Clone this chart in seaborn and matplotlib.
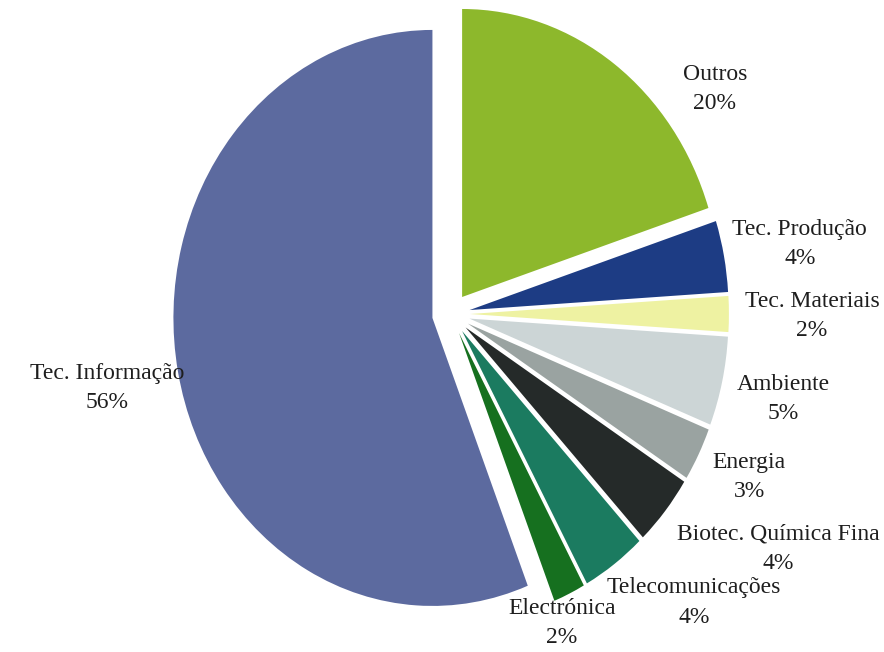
import matplotlib
matplotlib.use("Agg")
import matplotlib.pyplot as plt
import seaborn as sns

# Data (clockwise from 12 o'clock)
categories = [
    "Outros",
    "Tec. Produção",
    "Tec. Materiais",
    "Ambiente",
    "Energia",
    "Biotec. Química Fina",
    "Telecomunicações",
    "Electrónica",
    "Tec. Informação",
]
shares = [20, 4, 2, 5, 3, 4, 4, 2, 56]

colors = [
    "#8db82c",  # Outros
    "#1d3c84",  # Tec. Produção
    "#eef2a2",  # Tec. Materiais
    "#ccd5d6",  # Ambiente
    "#9aa3a1",  # Energia
    "#252a29",  # Biotec
    "#1b7b60",  # Telecom
    "#16701f",  # Electrónica
    "#5c6a9f",  # Tec. Informação
]

# Label anchor positions (data coords, pie radius = 1)
label_pos = [
    (1.019, 0.781),
    (1.347, 0.243),
    (1.394, -0.007),
    (1.282, -0.295),
    (1.151, -0.566),
    (1.263, -0.816),
    (0.938, -1.003),
    (0.429, -1.073),
    (-1.328, -0.257),
]


def main():
    sns.set_theme(style="white")
    plt.rcParams["font.family"] = ["Liberation Serif", "DejaVu Serif"]

    fig = plt.figure(figsize=(8.84, 6.52), dpi=100)
    ax = fig.add_axes([0, 0, 1, 1])

    ax.pie(
        shares,
        colors=colors,
        startangle=90,
        counterclock=False,
        explode=[0.073] * len(shares),
        wedgeprops={"linewidth": 0},
    )

    for name, val, (x, y) in zip(categories, shares, label_pos):
        ax.text(
            x, y, f"{name}\n{val}%",
            ha="center", va="center",
            fontsize=17, color="#1e1e1e", linespacing=1.55,
        )

    # The scanned pie is a bit taller than wide
    ax.set_aspect("auto")
    ax.set_xlim(-451 / 259, (884 - 451) / 259)
    ax.set_ylim(-(652 - 314) / 288, 314 / 288)
    ax.axis("off")

    fig.savefig("out.png", dpi=100, facecolor="white")
    plt.close(fig)


if __name__ == "__main__":
    main()
